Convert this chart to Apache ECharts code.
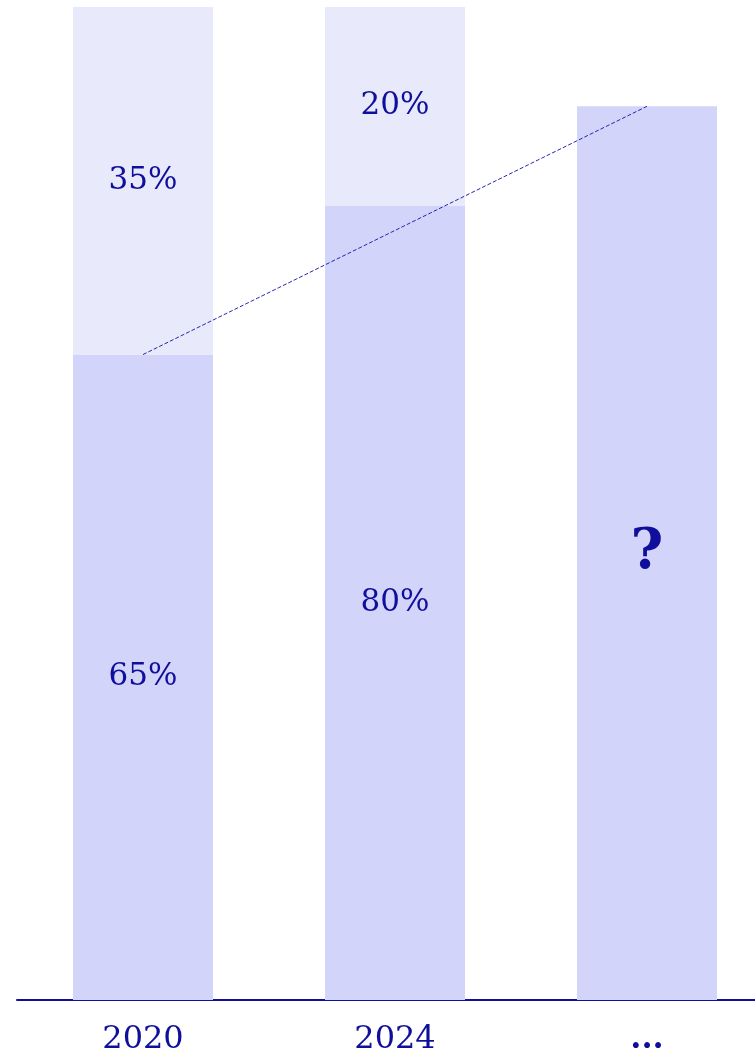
<!DOCTYPE html>
<html>
<head>
<meta charset="utf-8">
<style>
  html, body { margin: 0; padding: 0; background: #ffffff; }
  #chart { width: 755px; height: 1056px; }
</style>
<script src="https://cdn.jsdelivr.net/npm/echarts@6/dist/echarts.min.js"></script>
</head>
<body>
<div id="chart"></div>
<script>
// Share of the base segment per period, and the remainder stacked on top
const categories = ['2020', '2024', '...'];
const baseShare = [65, 80, 90];
const restShare = [35, 20, '-'];
const baseLabels = ['65%', '80%', '{q|?}'];
const restLabels = ['35%', '20%', ''];
// Trend line from the first period to the open question
const trend = [65, '-', 90];

const ink = '#0f0f9c';
const serif = '"DejaVu Serif", "Liberation Serif", serif';

const chart = echarts.init(document.getElementById('chart'));
chart.setOption({
  animation: false,
  // the plot runs one pixel past the right edge of the canvas
  grid: { left: 17, width: 756, top: 7, bottom: 56, containLabel: false, outerBoundsMode: 'none' },
  xAxis: {
    type: 'category',
    data: categories,
    axisTick: { show: false },
    axisLine: { lineStyle: { color: ink, width: 2 } },
    axisLabel: {
      color: ink,
      fontFamily: serif,
      fontSize: 32,
      margin: 24,
      // the open period is marked with heavy dots
      formatter: v => v === '...' ? '{dots|' + v + '}' : v,
      rich: { dots: { fontFamily: serif, fontSize: 32, fontWeight: 'bold', color: ink } }
    }
  },
  yAxis: { type: 'value', min: 0, max: 100, show: false },
  series: [
    {
      type: 'bar',
      stack: 'share',
      barWidth: 140,
      data: baseShare,
      itemStyle: { color: '#d3d4fa' },
      label: {
        show: true,
        position: 'inside',
        color: ink,
        fontFamily: serif,
        fontSize: 31,
        formatter: p => baseLabels[p.dataIndex],
        // the question mark is set heavier than the percentages
        rich: { q: { fontFamily: serif, fontSize: 56, fontWeight: 'bold', color: ink } }
      }
    },
    {
      type: 'bar',
      stack: 'share',
      barWidth: 140,
      data: restShare,
      itemStyle: { color: '#e8e9fb' },
      label: {
        show: true,
        position: 'inside',
        color: ink,
        fontFamily: serif,
        fontSize: 31,
        formatter: p => restLabels[p.dataIndex]
      }
    },
    {
      type: 'line',
      data: trend,
      connectNulls: true,
      symbol: 'none',
      z: 5,
      lineStyle: { color: '#2626b0', width: 1, type: [4, 2] }
    }
  ]
});
</script>
</body>
</html>
